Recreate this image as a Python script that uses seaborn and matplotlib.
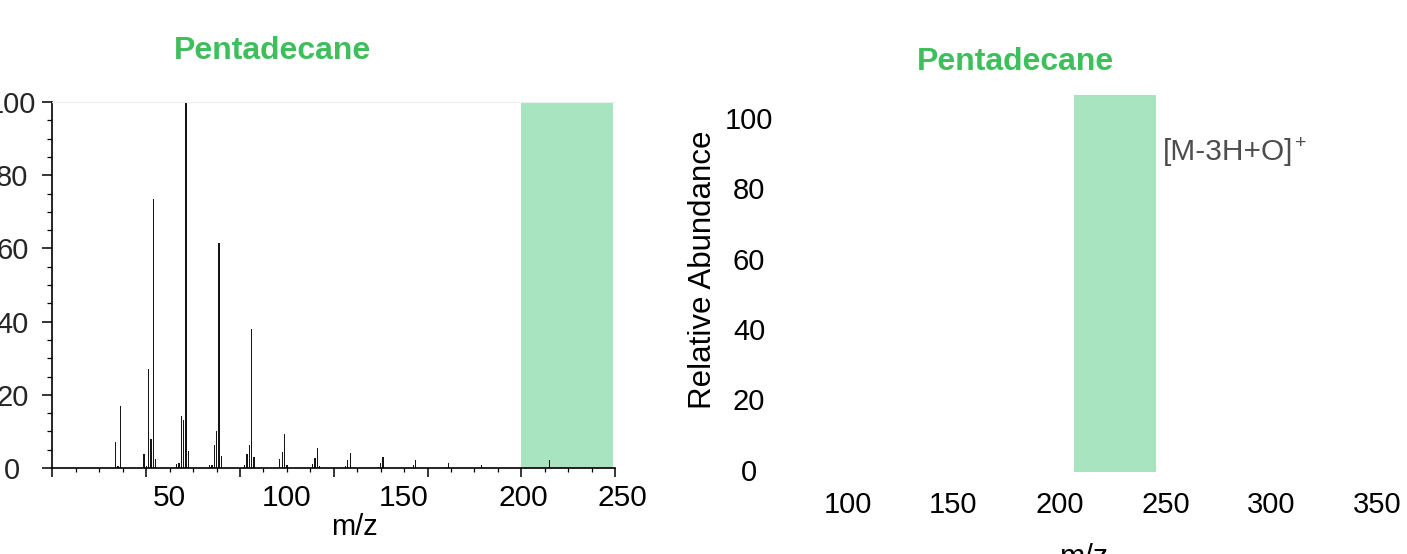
import matplotlib
matplotlib.use("Agg")
import matplotlib.pyplot as plt
from matplotlib.ticker import MultipleLocator
import pandas as pd
import seaborn as sns

# EI mass spectrum of pentadecane (C15H32, M = 212)
mz = [27, 28, 29, 39, 40, 41, 42, 43, 44, 53, 54, 55, 56, 57, 58,
      67, 68, 69, 70, 71, 72, 82, 83, 84, 85, 86, 97, 98, 99, 100,
      111, 112, 113, 114, 125, 126, 127, 139, 140, 141, 154, 155,
      168, 169, 183, 212]
abundance = [7.0, 0.5, 17.0, 3.9, 0.6, 27.1, 7.9, 73.4, 2.5, 1.2, 1.4, 14.2, 13.0, 100.0, 4.7,
             0.9, 0.9, 6.2, 10.0, 61.4, 3.4, 0.9, 3.9, 6.2, 37.9, 2.9, 2.4, 4.4, 9.3, 0.7,
             1.2, 2.8, 5.5, 0.5, 0.5, 2.2, 4.0, 0.4, 1.4, 3.0, 0.7, 2.3,
             0.3, 1.3, 0.7, 2.1]

left_xlabels = ["50", "100", "150", "200", "250"]
left_xlabel_pos = [50, 100, 150, 201, 243]
yticks = [0, 20, 40, 60, 80, 100]
right_xticks = [100, 150, 200, 250, 300, 350]

left_window = (200, 239)      # highlighted m/z window, left spectrum
right_window = (206.8, 245.5) # highlighted m/z window, right panel
ion_label = "[M-3H+O]"

title = "Pentadecane"
green = "#3dbf5b"
band = "#a8e4bf"

spec = pd.DataFrame({"mz": mz, "abundance": abundance})

sns.set_theme(style="white")
plt.rcParams["font.family"] = ["Liberation Sans", "DejaVu Sans"]

W, H = 1407, 554
fig = plt.figure(figsize=(W / 100, H / 100), dpi=100)

# ---------------- left: stick spectrum ----------------
axL = fig.add_axes([52.5 / W, 86 / H, 562.5 / W, 366 / H])
axL.axvspan(*left_window, color=band, lw=0, zorder=0)
sns.histplot(data=spec, x="mz", weights="abundance", discrete=True, shrink=0.55,
             color="#151515", alpha=1, linewidth=0, ax=axL, zorder=2)
axL.set_xlim(0, 240)
axL.set_ylim(0, 100)
axL.set_ylabel("")
axL.xaxis.set_major_locator(MultipleLocator(40))
axL.xaxis.set_minor_locator(MultipleLocator(10))
axL.yaxis.set_major_locator(MultipleLocator(20))
axL.yaxis.set_minor_locator(MultipleLocator(5))
axL.tick_params(axis="x", which="major", direction="out", length=6.5, width=1.1,
                color="black", labelbottom=False, bottom=True)
axL.tick_params(axis="x", which="minor", direction="out", length=3, width=0.9,
                color="black", bottom=True)
axL.tick_params(axis="y", which="major", direction="out", length=7, width=1.1,
                color="black", left=True, labelsize=21, pad=22)
axL.tick_params(axis="y", which="minor", direction="out", length=3.6, width=0.9,
                color="black", left=True)
axL.set_yticks(yticks)
for lab in axL.get_yticklabels():
    lab.set_horizontalalignment("center")
for side in ("left", "bottom"):
    axL.spines[side].set_color("black")
    axL.spines[side].set_linewidth(1.2)
axL.spines["top"].set_color("#eeeeee")
axL.spines["top"].set_linewidth(0.8)
axL.spines["right"].set_visible(False)
for pos, lab in zip(left_xlabel_pos, left_xlabels):
    axL.text(pos, -30 / 366, lab, transform=axL.get_xaxis_transform(),
             ha="center", va="center", fontsize=21.5, color="black", clip_on=False)
axL.set_xlabel("m/z", fontsize=21, color="black")
axL.xaxis.set_label_coords((354 - 52.5) / 562.5, -45 / 366)

# ---------------- right: window panel ----------------
axR = fig.add_axes([790 / W, 82 / H, 590 / W, 377 / H])
axR.axvspan(*right_window, color=band, lw=0, zorder=0)
axR.set_xlim(72.9, 351.2)
axR.set_ylim(-0.6, 106.5)
axR.set_xticks(right_xticks)
axR.set_yticks(yticks)
axR.tick_params(axis="both", length=0, labelsize=21, labelcolor="black")
axR.tick_params(axis="x", pad=14)
axR.tick_params(axis="y", pad=29.5)
for lab in axR.get_yticklabels():
    lab.set_horizontalalignment("center")
sns.despine(ax=axR, left=True, bottom=True)
axR.set_ylabel("Relative Abundance", fontsize=22.5, color="black")
axR.yaxis.set_label_coords((718 - 790) / 590, (472 - 270) / 377)
axR.set_xlabel("m/z", fontsize=22, color="black")
axR.xaxis.set_label_coords(0.5, -(543 - 472) / 377)
t = axR.text(248.8, 90.3, ion_label, ha="left", va="center", fontsize=21.5, color="#4d4d4d")
axR.annotate("+", xy=(1, 1), xycoords=t, xytext=(1, -4), textcoords="offset points",
             ha="left", va="center", fontsize=14, color="#4d4d4d")

# panel titles
fig.text(273 / W, 1 - 51 / H, title, ha="center", va="center",
         fontsize=23, fontweight="bold", color=green)
fig.text(1015 / W, 1 - 62 / H, title, ha="center", va="center",
         fontsize=23, fontweight="bold", color=green)

fig.savefig("out.png", dpi=100)
